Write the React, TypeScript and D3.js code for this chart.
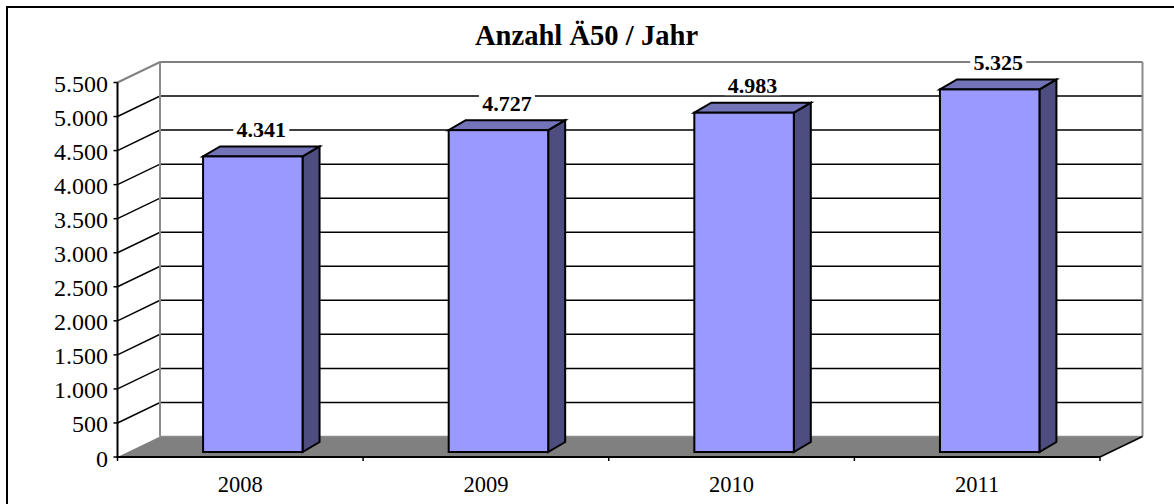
import React from 'react'
import * as d3 from 'd3'

const title = 'Anzahl Ä50 / Jahr'
const years = ['2008', '2009', '2010', '2011']
const counts = [4341, 4727, 4983, 5325]
const yTicks = [0, 500, 1000, 1500, 2000, 2500, 3000, 3500, 4000, 4500, 5000, 5500]

const width = 1174
const height = 504
const font = '"Liberation Serif", "Times New Roman", serif'

// front plane of the fake 3D box
const left = 117.5
const right = 1100
const bottom = 457
const top = 82.5
// how far the back wall is shifted from the front plane
const depthX = 42.5
const depthY = -20.5
// bars sit a bit inside the box and have their own small depth
const barShiftX = 12.5
const barShiftY = -5
const barDepthX = 17
const barDepthY = -10

const de = d3.formatLocale({ decimal: ',', thousands: '.', grouping: [3], currency: ['', ' €'] })
const fmt = de.format(',d')

const x = d3.scaleBand<string>().domain(years).range([left, right]).paddingInner(0.595).paddingOuter(0.2975)
const y = d3.scaleLinear().domain([0, 5500]).range([bottom, top])
const tickXs = d3.range(years.length + 1).map(i => left + i * x.step())

const poly = (pts: number[][]) => d3.line()(pts as [number, number][]) + 'Z'

const App = () => {
  const bars = years.map((year, i) => {
    const x0 = x(year)! + barShiftX
    const x1 = x0 + x.bandwidth()
    const yTop = y(counts[i]) + barShiftY
    const yBase = y(0) + barShiftY
    return { year, value: counts[i], x0, x1, yTop, yBase }
  })

  return (
    <svg width={width} height={height} style={{ position: 'absolute', left: 0, top: 0, display: 'block' }} fontFamily={font}>
      <rect width={width} height={height} fill="#fff" />
      <path d={`M7,${height + 5}V7H${width + 5}`} fill="none" stroke="#000" strokeWidth={2} />

      <text x={586.5} y={45} textAnchor="middle" fontSize={28.6} fontWeight="bold" fill="#000">{title}</text>

      {/* floor */}
      <path
        d={poly([[left, bottom], [left + depthX, bottom + depthY], [right + depthX, bottom + depthY], [right, bottom]])}
        fill="#808080"
      />

      {/* gridlines on the side and back walls */}
      {yTicks.filter(t => t > 0).map(t => {
        const isTop = t === 5500
        const stroke = isTop ? '#808080' : '#000'
        return (
          <path
            key={t}
            d={`M${left},${y(t)}L${left + depthX},${y(t) + depthY}H${right + depthX}`}
            fill="none"
            stroke={stroke}
            strokeWidth={isTop ? 2 : 1.5}
          />
        )
      })}
      <path d={`M${left + depthX},${top + depthY}V${bottom + depthY}`} stroke="#8c8c8c" strokeWidth={2} fill="none" />
      <path d={`M${right + depthX},${top + depthY}V${bottom + depthY}`} stroke="#8c8c8c" strokeWidth={2} fill="none" />
      <path d={`M${left + depthX},${bottom + depthY}H${right + depthX}`} stroke="#8c8c8c" strokeWidth={1.5} fill="none" />

      {/* axes */}
      <path d={`M${left},${top}V${bottom}H${right}`} fill="none" stroke="#000" strokeWidth={2} />
      <path d={`M${right},${bottom}L${right + depthX},${bottom + depthY}`} stroke="#000" strokeWidth={1.5} fill="none" />
      {yTicks.map(t => (
        <g key={t}>
          <path d={`M${left - 4},${y(t)}H${left}`} stroke="#000" strokeWidth={1.5} />
          <text x={108} y={y(t) + 9.5} textAnchor="end" fontSize={24} fill="#000">{fmt(t)}</text>
        </g>
      ))}
      {tickXs.map(tx => (
        <path key={tx} d={`M${tx},${bottom}V${bottom + 4}`} stroke="#000" strokeWidth={1.5} />
      ))}
      {years.map(year => (
        <text key={year} x={x(year)! + x.bandwidth() / 2} y={492} textAnchor="middle" fontSize={22.5} fill="#000">{year}</text>
      ))}

      {/* bars */}
      {bars.map(b => (
        <g key={b.year} stroke="#000" strokeWidth={2} strokeLinejoin="miter">
          <path d={poly([[b.x1, b.yTop], [b.x1 + barDepthX, b.yTop + barDepthY], [b.x1 + barDepthX, b.yBase + barDepthY], [b.x1, b.yBase]])} fill="#4d4d80" />
          <path d={poly([[b.x0, b.yTop], [b.x0 + barDepthX, b.yTop + barDepthY], [b.x1 + barDepthX, b.yTop + barDepthY], [b.x1, b.yTop]])} fill="#7373b8" />
          <rect x={b.x0} y={b.yTop} width={b.x1 - b.x0} height={b.yBase - b.yTop} fill="#9999ff" />
        </g>
      ))}

      {/* value labels knock a white gap out of the gridlines */}
      {bars.map(b => {
        const cx = (b.x0 + b.x1) / 2 + 8.5
        const cy = b.yTop - 26.5
        return (
          <g key={b.year}>
            <rect x={cx - 28} y={cy - 9} width={56} height={18} fill="#fff" />
            <text x={cx} y={cy + 7} textAnchor="middle" fontSize={22} fontWeight="bold" fill="#000">{fmt(b.value)}</text>
          </g>
        )
      })}
    </svg>
  )
}

export default App
